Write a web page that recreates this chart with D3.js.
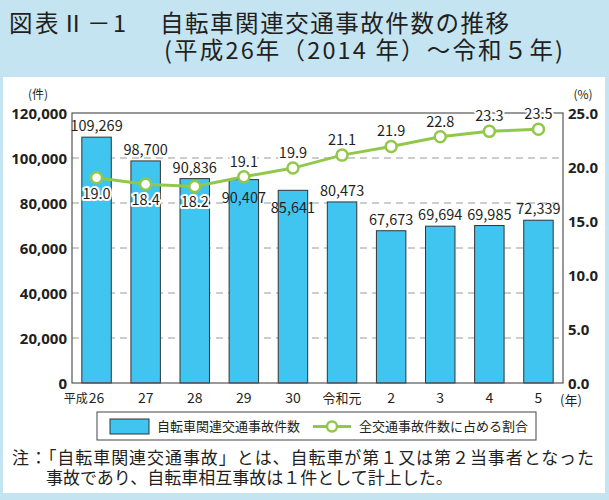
<!DOCTYPE html>
<html><head><meta charset="utf-8">
<script src="https://cdn.jsdelivr.net/npm/d3@7"></script>
<style>
html,body{margin:0;padding:0;background:#c5e4f2;}
svg{display:block;font-family:"Noto Sans CJK JP","Noto Sans",sans-serif;}
</style></head><body>
<svg id="c" width="609" height="500"></svg>
<script>
const categories = ["平成26","27","28","29","30","令和元","2","3","4","5"];
const bicycleAccidents = [109269, 98700, 90836, 90407, 85641, 80473, 67673, 69694, 69985, 72339];
const sharePercent = [19.0, 18.4, 18.2, 19.1, 19.9, 21.1, 21.9, 22.8, 23.3, 23.5];
const leftTicks = [0, 20000, 40000, 60000, 80000, 100000, 120000];
const rightTicks = [0, 5, 10, 15, 20, 25];
const barLabelInside = [false,false,false,true,true,false,false,false,false,false];
const pctLabelBelow = [true,true,true,false,false,false,false,false,false,false];

const svg = d3.select("#c");
const blue = "#c5e4f2", barColor = "#40c4f0", green = "#92c84a", txt = "#231f20";

svg.append("rect").attr("x",0).attr("y",0).attr("width",609).attr("height",500).attr("fill",blue);
svg.append("rect").attr("x",3).attr("y",77).attr("width",602).attr("height",416).attr("fill","#fff");

// title
const t = svg.append("g").attr("fill",txt).style("font-size","23.5px");
t.append("text").attr("x",9).attr("y",32).attr("textLength",117).attr("lengthAdjust","spacing").text("図表Ⅱ－1");
t.append("text").attr("x",160).attr("y",32).attr("textLength",349).attr("lengthAdjust","spacing").text("自転車関連交通事故件数の推移");
t.append("text").attr("x",164).attr("y",59).attr("textLength",399).attr("lengthAdjust","spacing").text("(平成26年（2014 年）～令和５年)");

const L = 72, R = 563, T = 113, B = 383;
const x = d3.scaleBand().domain(categories).range([L, R]).paddingInner(0.4).paddingOuter(0.2);
const y = d3.scaleLinear().domain([0, 120000]).range([B, T]);
const y2 = d3.scaleLinear().domain([0, 25]).range([B, T]);

// grid
svg.append("g").selectAll("line").data(leftTicks.filter(d => d > 0 && d < 120000)).join("line")
  .attr("x1", L).attr("x2", R).attr("y1", d => y(d)).attr("y2", d => y(d))
  .attr("stroke", "#9a9a9a").attr("stroke-width", 1).attr("stroke-dasharray", "7,5");

// bars
svg.append("g").selectAll("rect").data(bicycleAccidents).join("rect")
  .attr("x", (d,i) => x(categories[i])).attr("width", x.bandwidth())
  .attr("y", d => y(d)).attr("height", d => B - y(d))
  .attr("fill", barColor).attr("stroke", "#333").attr("stroke-width", 1);

// frame
svg.append("rect").attr("x", L).attr("y", T).attr("width", R - L).attr("height", B - T)
  .attr("fill", "none").attr("stroke", "#555").attr("stroke-width", 1.2);

// axes
const yAxis = d3.axisLeft(y).tickValues(leftTicks).tickSize(0).tickPadding(5).tickFormat(d3.format(","));
const ga = svg.append("g").attr("transform", `translate(${L},0)`).call(yAxis);
ga.select(".domain").remove();
ga.selectAll("text").attr("fill", txt).style("font-size","15px").style("font-weight","bold").attr("dy","0.36em").style("font-family","'Noto Sans',sans-serif");

const y2Axis = d3.axisRight(y2).tickValues(rightTicks).tickSize(0).tickPadding(5).tickFormat(d3.format(".1f"));
const gb = svg.append("g").attr("transform", `translate(${R},0)`).call(y2Axis);
gb.select(".domain").remove();
gb.selectAll("text").attr("fill", txt).style("font-size","15px").style("font-weight","bold").attr("dy","0.36em").style("font-family","'Noto Sans',sans-serif");

svg.append("text").attr("x", 38).attr("y", 99).attr("text-anchor","middle").attr("fill",txt).style("font-size","12px").text("(件)");
svg.append("text").attr("x", 583).attr("y", 99).attr("text-anchor","middle").attr("fill",txt).style("font-size","12px").text("(%)");

// x labels
const xg = svg.append("g").attr("fill", txt).style("font-size","14px");
categories.forEach((c,i) => {
  const cx = x(c) + x.bandwidth()/2;
  if (c.startsWith("平成")) {
    const num = c.replace("平成","");
    const tn = xg.append("text").attr("x", cx).attr("y", 403).attr("text-anchor","middle").text(num);
    const w = tn.node().getComputedTextLength();
    xg.append("text").attr("x", cx - w/2 - 1).attr("y", 403).attr("text-anchor","end").style("font-size","12px").text("平成");
  } else if (/^[0-9]+$/.test(c)) {
    xg.append("text").attr("x", cx).attr("y", 403).attr("text-anchor","middle").text(c);
  } else {
    xg.append("text").attr("x", cx).attr("y", 403).attr("text-anchor","middle").style("font-size","13px").text(c);
  }
});
xg.append("text").attr("x", 571).attr("y", 405).attr("text-anchor","middle").style("font-size","13px").text("(年)");

// bar labels
svg.append("g").selectAll("text").data(bicycleAccidents).join("text")
  .attr("x", (d,i) => x(categories[i]) + x.bandwidth()/2)
  .attr("y", (d,i) => barLabelInside[i] ? y(d) + 23 : y(d) - 6)
  .attr("text-anchor","middle").attr("fill", txt).style("font-size","14.5px")
  .text(d => d3.format(",")(d));

// line
const line = d3.line().x((d,i) => x(categories[i]) + x.bandwidth()/2).y(d => y2(d));
svg.append("path").datum(sharePercent).attr("d", line).attr("fill","none").attr("stroke", green).attr("stroke-width", 3);
svg.append("g").selectAll("circle").data(sharePercent).join("circle")
  .attr("cx", (d,i) => x(categories[i]) + x.bandwidth()/2).attr("cy", d => y2(d)).attr("r", 5.5)
  .attr("fill","#fff").attr("stroke", green).attr("stroke-width", 2.5);

// pct labels with halo
svg.append("g").selectAll("text").data(sharePercent).join("text")
  .attr("x", (d,i) => x(categories[i]) + x.bandwidth()/2)
  .attr("y", (d,i) => pctLabelBelow[i] ? y2(d) + 21 : y2(d) - 10)
  .attr("text-anchor","middle").style("font-size","14.5px")
  .attr("fill", txt).attr("stroke","#fff").attr("stroke-width",4).attr("paint-order","stroke").attr("stroke-linejoin","round")
  .text(d => d3.format(".1f")(d));

// legend
const lg = svg.append("g");
lg.append("rect").attr("x", 97).attr("y", 412).attr("width", 439).attr("height", 28).attr("fill","#fff").attr("stroke","#444").attr("stroke-width",1);
lg.append("rect").attr("x", 110).attr("y", 419).attr("width", 39).attr("height", 15).attr("fill", barColor).attr("stroke","#333");
lg.append("text").attr("x", 157).attr("y", 431).attr("fill", txt).style("font-size","13px").text("自転車関連交通事故件数");
lg.append("line").attr("x1", 313).attr("x2", 351).attr("y1", 426.5).attr("y2", 426.5).attr("stroke", green).attr("stroke-width", 3);
lg.append("circle").attr("cx", 332).attr("cy", 426.5).attr("r", 5).attr("fill","#fff").attr("stroke", green).attr("stroke-width", 2.5);
lg.append("text").attr("x", 359).attr("y", 431).attr("fill", txt).style("font-size","13px").text("全交通事故件数に占める割合");

// note
const nt = svg.append("g").attr("fill", txt).style("font-size","17px");
nt.append("text").attr("x", 12).attr("y", 464).attr("textLength",582).attr("lengthAdjust","spacing").text("注：「自転車関連交通事故」とは、自転車が第１又は第２当事者となった");
nt.append("text").attr("x", 46).attr("y", 484).text("事故であり、自転車相互事故は１件として計上した。");
</script></body></html>
